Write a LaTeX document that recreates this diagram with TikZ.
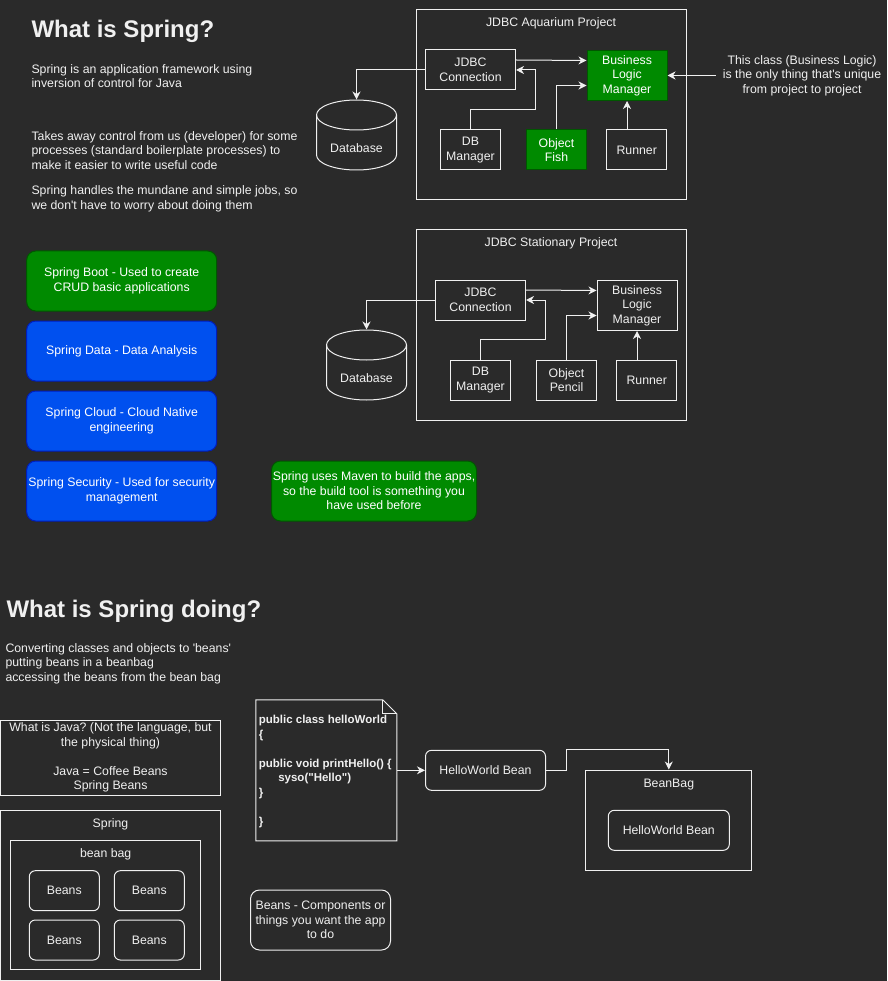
\documentclass[tikz,border=0pt]{standalone}
\usepackage{fontspec}
\setmainfont{Liberation Sans}
\usetikzlibrary{arrows.meta,calc}
\definecolor{bg}{RGB}{42,42,42}
\definecolor{fg}{RGB}{240,240,240}
\definecolor{dgreen}{HTML}{008A00}
\definecolor{dgreenline}{HTML}{005700}
\definecolor{dblue}{HTML}{0050EF}
\definecolor{dblueline}{HTML}{001DBC}
\frenchspacing
\tikzset{
  dbcyl/.pic={
    \draw[fg] (0,-20) ellipse [x radius=40, y radius=15];
    \draw[fg] (-40,-20) -- (-40,20) arc[start angle=180, end angle=0, x radius=40, y radius=15] -- (40,-20);
    \coordinate (-top) at (0,-35.5);
    \node (-lbl) at (0,13.5) {Database};
  }
}
\begin{document}
\begin{tikzpicture}[x=1pt,y=-1pt, line width=1pt,
  every node/.style={text=fg, font=\fontsize{12.3}{14.5}\selectfont\frenchspacing, inner sep=0pt},
  sz/.style 2 args={minimum width=#1pt, minimum height=#2pt},
  box/.style={draw=fg, align=center, rectangle},
  rbox/.style={box, rounded corners=6pt},
  gbox/.style={box, fill=dgreen, draw=dgreenline, text=white},
  pill/.style={rectangle, rounded corners=9pt, align=center, text=white, minimum width=190pt, minimum height=60pt},
  greenpill/.style={pill, fill=dgreen, draw=dgreenline},
  bluepill/.style={pill, fill=dblue, draw=dblueline},
  title/.style={font=\fontsize{24}{28}\selectfont\bfseries},
  arr/.style={draw=fg, -{Stealth[length=8pt,width=8pt,inset=2.5pt]}},
]
\useasboundingbox (0,0) rectangle (887,981);
\fill[bg] (0,0) rectangle (887,981);

% ---------- top texts ----------
\node[anchor=west, title] (t1) at (31,31.5) {What is Spring?};
\node[anchor=west, align=left] (p1) at (31,76) {Spring is an application framework using\\inversion of control for Java};
\node[anchor=west, align=left] (p2) at (31,150.5) {Takes away control from us (developer) for some\\processes (standard boilerplate processes) to\\make it easier to write useful code};
\node[anchor=west, align=left] (p3) at (31,199) {Spring handles the mundane and simple jobs, so\\we don\textquotesingle t have to worry about doing them};

% ---------- aquarium project ----------
\node[box, sz={270}{190}] (aq) at (551,105) {};
\node (aqlbl) at (551,23.5) {JDBC Aquarium Project};
\node[box, sz={90}{40}] (jc1) at (470.5,70) {JDBC\\Connection};
\node[gbox, sz={80}{50}] (blm1) at (627,75.5) {Business\\Logic\\Manager};
\node[box, sz={60}{40}] (dbm1) at (470.5,150) {DB\\Manager};
\node[gbox, sz={60}{40}] (of1) at (556.5,150) {Object\\Fish};
\node[box, sz={60}{40}] (run1) at (636.7,150) {Runner};
\pic (db1) at (356.5,135) {dbcyl};
\node[align=center, minimum width=172pt] (ann) at (802,75.5) {This class (Business Logic)\\is the only thing that\textquotesingle s unique\\from project to project};

\draw[arr] (jc1.west) -| (db1-top);
\draw[arr] ($(jc1.east)+(0,-10)$) -- ($(blm1.west)+(0,-15)$);
\draw[arr] (dbm1.north) -- ++(0,-20) -| ($(jc1.east)+(19.5,0)$) -- (jc1.east);
\draw[arr] (of1.north) |- ($(blm1.west)+(0,10)$);
\draw[arr] (blm1.south |- run1.north) -- (blm1.south);
\draw[arr] (ann.west) -- (ann.west -| blm1.east);

% ---------- stationary project ----------
\node[box, sz={270}{190}] (st) at (551,325) {};
\node (stlbl) at (551,243.5) {JDBC Stationary Project};
\node[box, sz={90}{40}] (jc2) at (480.5,300) {JDBC\\Connection};
\node[box, sz={80}{50}] (blm2) at (637,305.5) {Business\\Logic\\Manager};
\node[box, sz={60}{40}] (dbm2) at (480.5,380) {DB\\Manager};
\node[box, sz={60}{40}] (op2) at (566.5,380) {Object\\Pencil};
\node[box, sz={60}{40}] (run2) at (646.7,380) {Runner};
\pic (db2) at (366.5,365) {dbcyl};

\draw[arr] (jc2.west) -| (db2-top);
\draw[arr] ($(jc2.east)+(0,-10)$) -- ($(blm2.west)+(0,-15)$);
\draw[arr] (dbm2.north) -- ++(0,-20) -| ($(jc2.east)+(19.5,0)$) -- (jc2.east);
\draw[arr] (op2.north) |- ($(blm2.west)+(0,10)$);
\draw[arr] (blm2.south |- run2.north) -- (blm2.south);

% ---------- spring modules ----------
\node[greenpill] (boot) at (121.7,281) {Spring Boot - Used to create\\CRUD basic applications};
\node[bluepill] (data) at (121.7,351) {Spring Data - Data Analysis};
\node[bluepill] (cloud) at (121.7,421) {Spring Cloud - Cloud Native\\engineering};
\node[bluepill] (sec) at (121.7,491) {Spring Security - Used for security\\management};
\node[greenpill, minimum width=205pt] (maven) at (374,491) {Spring uses Maven to build the apps,\\so the build tool is something you\\have used before};

% ---------- bottom part ----------
\node[anchor=west, title] (t2) at (6,611) {What is Spring doing?};
\node[anchor=west, align=left] (p4) at (5,663.5) {Converting classes and objects to \textquotesingle beans\textquotesingle\\putting beans in a beanbag\\accessing the beans from the bean bag};

\node[box, sz={220}{75}] (java) at (110.5,757.5) {What is Java? (Not the language, but\\the physical thing)\\\mbox{}\\Java = Coffee Beans\\Spring Beans};

\node[box, sz={220}{170}] (spring) at (110.5,895) {};
\node (springlbl) at (110.5,824.5) {Spring};
\node[box, sz={190}{129}] (bagl) at (105.7,905.3) {};
\node (baglbl) at (105.7,854.5) {bean bag};
\node[rbox, sz={70}{40}] (b1) at (64.3,890.7) {Beans};
\node[rbox, sz={70}{40}] (b2) at (149.3,890.7) {Beans};
\node[rbox, sz={70}{40}] (b3) at (64.3,940) {Beans};
\node[rbox, sz={70}{40}] (b4) at (149.3,940) {Beans};

\node[sz={140}{140}] (code) at (326.3,770.3) {};
\node[anchor=west, align=left, font=\fontsize{11.5}{14.5}\selectfont\bfseries] (codetxt) at (258.3,771.3)
 {public class helloWorld\\
 \{\\
 \mbox{}\\
 public void printHello() \{\\
 \hspace*{19.5pt}syso(\textquotedbl Hello\textquotedbl)\\
 \}\\
 \mbox{}\\
 \}};
\draw[fg] (code.north west) -- ($(code.north east)+(-14,0)$) -- ($(code.north east)+(0,14)$) -- (code.south east) -- (code.south west) -- cycle;
\draw[fg] ($(code.north east)+(-14,0)$) -- ($(code.north east)+(-14,14)$) -- ($(code.north east)+(0,14)$);

\node[rbox, sz={120}{40}] (hw1) at (485.5,770.3) {HelloWorld Bean};
\node[box, sz={165.7}{100}] (bag) at (668.8,820) {};
\node (bagtitle) at (668.8,784.5) {BeanBag};
\node[rbox, sz={121}{40}] (hw2) at (668.8,830.3) {HelloWorld Bean};

\draw[arr] (code.east) -- (hw1.west);
\draw[arr] (hw1.east) -- ++(20,0) |- ($(bag.north)+(0,-20)$) -- (bag.north);

\node[rbox, rounded corners=9pt, sz={140}{60}] (beansnote) at (320.5,920) {Beans - Components or\\things you want the app\\to do};
\end{tikzpicture}
\end{document}
